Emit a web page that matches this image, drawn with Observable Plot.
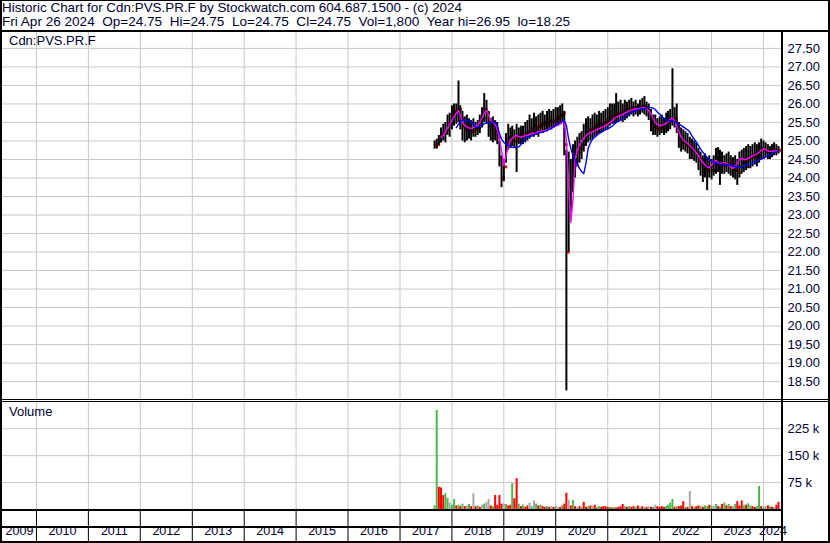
<!DOCTYPE html>
<html><head><meta charset="utf-8">
<script src="https://cdn.jsdelivr.net/npm/d3@7"></script>
<script src="https://cdn.jsdelivr.net/npm/@observablehq/plot@0.6"></script>
<style>
html,body{margin:0;padding:0;background:#fff;}
#wrap{position:relative;width:830px;height:543px;overflow:hidden;font-family:"Liberation Sans",Arial,sans-serif;color:#000033;}
.ln{position:absolute;background:#000;}
.t{position:absolute;white-space:pre;font-size:13px;line-height:14px;}
#wrap svg{position:absolute;}
</style></head><body><div id="wrap"></div>
<script>
// ---- texts ----
const headerLines = [
  "Historic Chart for Cdn:PVS.PR.F by Stockwatch.com 604.687.1500 - (c) 2024",
  "Fri Apr 26 2024  Op=24.75  Hi=24.75  Lo=24.75  Cl=24.75  Vol=1,800  Year hi=26.95  lo=18.25"
];
// ---- categories ----
const years = [2009,2010,2011,2012,2013,2014,2015,2016,2017,2018,2019,2020,2021,2022,2023,2024];
const months = ["2017-09","2017-10","2017-11","2017-12",
"2018-01","2018-02","2018-03","2018-04","2018-05","2018-06","2018-07","2018-08","2018-09","2018-10","2018-11","2018-12",
"2019-01","2019-02","2019-03","2019-04","2019-05","2019-06","2019-07","2019-08","2019-09","2019-10","2019-11","2019-12",
"2020-01","2020-02","2020-03","2020-04","2020-05","2020-06","2020-07","2020-08","2020-09","2020-10","2020-11","2020-12",
"2021-01","2021-02","2021-03","2021-04","2021-05","2021-06","2021-07","2021-08","2021-09","2021-10","2021-11","2021-12",
"2022-01","2022-02","2022-03","2022-04","2022-05","2022-06","2022-07","2022-08","2022-09","2022-10","2022-11","2022-12",
"2023-01","2023-02","2023-03","2023-04","2023-05","2023-06","2023-07","2023-08","2023-09","2023-10","2023-11","2023-12",
"2024-01","2024-02","2024-03","2024-04"];
const halves = ["01","16"];
const priceTicks = [18.5,19,19.5,20,20.5,21,21.5,22,22.5,23,23.5,24,24.5,25,25.5,26,26.5,27,27.5];
const volTicks = [75,150,225];

// ---- half-month price bars (high / low / close) ----
const hi = [
25.00,25.05,25.15,25.35,25.45,25.50,25.70,25.75,25.95,26.00,
26.00,26.62,25.95,25.80,25.65,25.70,25.60,25.55,25.60,25.50,
25.55,25.70,25.90,26.28,26.10,25.80,25.60,25.65,25.55,25.50,
25.00,24.60,24.50,25.20,25.45,25.35,25.40,25.30,25.45,25.35,
25.40,25.40,25.50,25.55,25.70,25.60,25.75,25.65,25.70,25.75,
25.80,25.70,25.80,25.85,25.80,25.85,25.90,25.90,25.95,26.00,
25.80,24.75,24.70,24.50,24.90,25.00,25.10,25.20,25.25,25.45,
25.60,25.65,25.60,25.70,25.75,25.70,25.80,25.75,25.80,25.85,
25.90,26.00,26.00,26.00,26.28,26.05,26.10,26.00,26.10,26.05,
26.10,26.15,26.05,26.10,26.00,26.10,26.15,26.20,26.05,26.00,
25.85,25.70,25.70,25.60,25.65,25.70,25.60,25.75,25.80,25.85,
26.95,25.90,26.00,25.50,25.35,25.30,25.25,25.20,25.10,25.05,
25.00,24.95,24.80,24.70,24.60,24.65,24.55,24.60,24.50,24.60,
24.80,24.82,24.75,24.70,24.60,24.65,24.70,24.60,24.55,24.60,
24.50,24.70,24.75,24.80,24.85,24.90,24.85,24.90,24.95,24.90,
24.95,25.05,25.00,24.95,24.90,24.85,24.90,24.95,24.90,24.85];
const lo = [
24.78,24.78,24.88,24.95,25.00,24.95,25.15,25.10,25.30,25.40,
25.45,25.50,25.30,25.00,24.95,25.00,25.05,25.00,25.10,25.10,
25.15,25.20,25.35,25.50,25.45,25.10,25.00,24.95,25.00,24.90,
24.30,23.74,23.90,24.40,24.75,24.80,24.85,24.80,24.15,24.90,
24.90,24.90,24.95,25.00,25.05,25.10,25.10,25.15,25.10,25.20,
25.20,25.25,25.25,25.30,25.30,25.35,25.40,25.40,25.45,25.50,
24.60,18.25,22.00,22.90,23.60,24.00,24.30,24.40,24.50,24.70,
24.85,24.95,25.00,25.05,25.10,25.15,25.20,25.20,25.25,25.30,
25.30,25.40,25.45,25.45,25.50,25.50,25.55,25.50,25.55,25.60,
25.65,25.70,25.65,25.70,25.65,25.70,25.75,25.70,25.65,25.55,
25.25,25.15,25.15,25.10,25.15,25.20,25.15,25.20,25.25,25.30,
25.40,25.35,25.20,24.80,24.70,24.75,24.70,24.65,24.50,24.50,
24.45,24.40,24.20,24.05,23.88,24.00,23.66,24.00,23.95,24.05,
24.10,24.15,23.80,24.10,24.10,24.15,24.10,24.05,24.00,23.95,
23.80,24.00,24.10,24.15,24.20,24.25,24.25,24.30,24.35,24.30,
24.40,24.50,24.50,24.55,24.50,24.50,24.55,24.60,24.60,24.65];
const cl = [
24.88,24.90,25.00,25.20,25.25,25.30,25.45,25.50,25.65,25.80,
25.85,25.85,25.60,25.40,25.30,25.35,25.30,25.25,25.35,25.30,
25.35,25.45,25.60,25.85,25.75,25.40,25.30,25.20,25.25,25.10,
24.55,24.00,24.30,24.90,25.10,25.05,25.10,25.00,25.10,25.15,
25.10,25.15,25.20,25.25,25.35,25.30,25.40,25.35,25.40,25.45,
25.50,25.45,25.50,25.55,25.50,25.55,25.60,25.65,25.70,25.75,
24.90,22.00,23.00,23.80,24.30,24.50,24.70,24.80,24.90,25.00,
25.20,25.30,25.30,25.35,25.40,25.45,25.50,25.45,25.50,25.55,
25.60,25.65,25.70,25.70,25.75,25.75,25.80,25.75,25.80,25.85,
25.85,25.90,25.85,25.90,25.85,25.90,25.95,25.90,25.85,25.75,
25.50,25.40,25.35,25.30,25.35,25.40,25.35,25.45,25.50,25.55,
25.60,25.55,25.40,25.05,24.95,25.00,24.90,24.85,24.80,24.75,
24.70,24.65,24.50,24.35,24.25,24.30,24.20,24.30,24.20,24.35,
24.45,24.50,24.40,24.40,24.35,24.40,24.40,24.30,24.25,24.20,
24.15,24.30,24.40,24.45,24.50,24.55,24.55,24.60,24.65,24.60,
24.70,24.80,24.75,24.70,24.70,24.65,24.70,24.75,24.75,24.75];
// ---- moving averages ----
const maShort = [
null,null,null,25.10,25.15,25.25,25.35,25.45,25.55,25.65,
25.75,25.82,25.70,25.50,25.42,25.38,25.35,25.34,25.36,25.40,
25.43,25.50,25.62,25.75,25.82,25.70,25.56,25.50,25.46,25.30,
25.05,24.75,24.34,24.60,24.85,25.00,25.08,25.12,25.15,25.12,
25.10,25.12,25.15,25.15,25.18,25.20,25.20,25.22,25.25,25.26,
25.28,25.28,25.30,25.33,25.36,25.38,25.40,25.42,25.45,25.50,
25.55,25.00,23.80,22.80,23.40,24.50,24.75,24.90,25.00,25.08,
25.15,25.20,25.22,25.25,25.28,25.30,25.33,25.36,25.38,25.42,
25.45,25.50,25.55,25.60,25.64,25.67,25.69,25.72,25.75,25.78,
25.82,25.84,25.85,25.87,25.87,25.88,25.90,25.90,25.88,25.82,
25.72,25.60,25.50,25.45,25.42,25.42,25.45,25.48,25.52,25.58,
25.62,25.55,25.40,25.25,25.12,25.02,24.98,24.93,24.88,24.82,
24.75,24.68,24.60,24.50,24.42,24.36,24.30,24.28,24.35,24.45,
24.47,24.42,24.38,24.40,24.42,24.40,24.35,24.30,24.26,24.30,
24.40,24.50,24.53,24.50,24.50,24.53,24.56,24.60,24.62,24.65,
24.69,24.75,24.79,24.77,24.73,24.72,24.72,24.73,24.74,24.74];
const maLong = [
null,null,null,null,null,null,null,null,null,null,
25.36,25.45,25.53,25.55,25.56,25.56,25.55,25.52,25.45,25.38,
25.38,25.40,25.43,25.46,25.49,25.50,25.50,25.50,25.50,25.42,
25.20,25.05,24.96,24.92,24.88,24.85,24.83,24.82,24.82,24.84,
24.90,24.98,25.05,25.10,25.12,25.15,25.17,25.19,25.21,25.23,
25.24,25.26,25.28,25.31,25.34,25.38,25.42,25.46,25.50,25.53,
25.55,25.42,25.05,24.80,24.62,24.50,24.38,24.26,24.17,24.12,
24.40,24.80,24.95,25.05,25.10,25.15,25.20,25.24,25.27,25.30,
25.33,25.36,25.40,25.45,25.50,25.53,25.56,25.60,25.65,25.70,
25.74,25.77,25.80,25.82,25.84,25.86,25.87,25.88,25.89,25.90,
25.90,25.89,25.85,25.78,25.72,25.66,25.62,25.58,25.55,25.55,
25.55,25.52,25.48,25.45,25.42,25.38,25.34,25.30,25.24,25.14,
25.05,24.97,24.88,24.78,24.70,24.62,24.56,24.50,24.46,24.42,
24.40,24.39,24.38,24.37,24.36,24.36,24.35,24.34,24.33,24.31,
24.29,24.28,24.30,24.32,24.34,24.36,24.38,24.39,24.42,24.45,
24.48,24.51,24.53,24.57,24.60,24.62,24.65,24.68,24.71,24.74];
// ---- volume (thousands) and bar colour (g up, r down, n unchanged) ----
const vol = [
10,276,62,60,39,44,31,18,12,28,
10,12,8,15,8,10,14,8,44,8,
10,6,12,15,20,28,10,8,39,12,
39,15,15,14,10,12,72,30,86,15,
8,12,6,10,18,8,24,15,10,12,
8,6,8,6,8,6,8,5,6,10,
15,45,26,10,25,8,6,8,6,20,
6,8,10,8,12,6,8,6,8,8,
6,6,4,5,4,6,8,14,8,6,
8,6,8,6,10,6,8,5,6,8,
6,6,12,8,6,8,6,8,12,18,
28,6,8,8,10,22,6,6,50,8,
6,8,10,8,6,10,8,12,10,8,
14,8,6,14,18,10,14,8,8,14,
22,10,24,10,12,16,10,8,6,8,
64,8,6,8,10,8,6,6,12,20];
const vdir = "ggrrrggngg" + "rgrgrngrnr" + "grngnnrgrr" + "rrngrrgrrg" + "rgrrngngrg" +
             "rrgrnrgnrg" + "rrnrgrnrgr" + "rgrnrggrrr" + "rgrgrrrrgr" + "grrgrnrgrn" +
             "rgnrrrrggg" + "grgrrrgrnr" + "grrgrggrgn" + "grgrgrgrng" + "rrrgrggrrg" + "grgnrgrnrr";

const colorOf = {g:"#4cb84c", r:"#ff0000", n:"#a8a8a8"};
const dates = months.flatMap(m => halves.map(h => new Date(m + "-" + h + "T00:00:00Z")));
const bars = dates.map((d,i) => ({date:d, hi:hi[i], lo:lo[i], cl:cl[i], ma1:maShort[i], ma2:maLong[i], vol:vol[i], c:colorOf[vdir[i]]}));
const yearStarts = years.slice(1).map(y => new Date(Date.UTC(y,0,1)));

const xDomain = [new Date(Date.UTC(2009,4,7)), new Date(Date.UTC(2024,4,14))];
const font = "'Liberation Sans', Arial, sans-serif";
const ink = "#000033";
const common = {width:826, marginLeft:0, marginTop:0, marginBottom:0, marginRight:46,
  x:{type:"utc", domain:xDomain, axis:null},
  style:{background:"transparent", fontFamily:font, fontSize:"13px", color:ink, overflow:"visible"}};
const grid = "#c8c8c8";

const wrap = document.getElementById("wrap");

// header: two lines stretched to the widths they take in the chart
const header = d3.create("svg").attr("width", 830).attr("height", 30)
  .style("left","0px").style("top","0px")
  .style("font-family", font).style("font-size","13.5px").attr("fill", ink);
header.selectAll("text").data(headerLines).join("text")
  .attr("x", 2).attr("y", (d,i) => 12 + i*14)
  .attr("textLength", (d,i) => [460, 568][i]).attr("lengthAdjust", "spacingAndGlyphs")
  .style("white-space","pre").attr("xml:space","preserve")
  .text(d => d);
wrap.appendChild(header.node());

const price = Plot.plot({...common, height:368,
  y:{domain:[17.99,27.93]},
  marks:[
    Plot.ruleY(priceTicks, {stroke:grid}),
    Plot.ruleX(yearStarts, {stroke:grid}),
    // red close ticks sit to the right of each bar and show where they poke out
    Plot.dot(bars, {x:"date", y:"cl", dx:2, r:1.6, fill:"#ff0000", stroke:null, symbol:"square"}),
    Plot.ruleX(bars, {x:"date", y1:"lo", y2:"hi", stroke:"#000", strokeWidth:2}),
    Plot.line(bars, {x:"date", y:"ma1", stroke:"#ff00ff", strokeWidth:1.4}),
    Plot.line(bars, {x:"date", y:"ma2", stroke:"#0000ff", strokeWidth:1.4}),
    Plot.axisY(priceTicks, {anchor:"right", tickSize:0, tickPadding:5, label:null, tickFormat:d => d.toFixed(2)})
  ]});
price.style.left = "2px"; price.style.top = "32px";

const volume = Plot.plot({...common, height:107,
  y:{domain:[0,298]},
  marks:[
    Plot.ruleY(volTicks, {stroke:grid}),
    Plot.ruleX(yearStarts, {stroke:grid}),
    Plot.ruleX(bars, {x:"date", y1:0, y2:"vol", stroke:"c", strokeWidth:2}),
    Plot.axisY(volTicks, {anchor:"right", tickSize:0, tickPadding:5, label:null, tickFormat:d => d + " k"})
  ]});
volume.style.left = "2px"; volume.style.top = "402px";

const yearCells = years.map(y => {
  const a = Math.max(+new Date(Date.UTC(y,0,1)), +xDomain[0]);
  const b = Math.min(+new Date(Date.UTC(y+1,0,1)), +xDomain[1]);
  return {label:String(y), mid:new Date((a+b)/2)};
});
const strip = Plot.plot({...common, height:32,
  style:{...common.style, fontSize:"12.5px"},
  marks:[
    Plot.ruleX(yearStarts, {stroke:"#000"}),
    Plot.text(yearCells, {x:"mid", text:"label", frameAnchor:"bottom", dy:-8})
  ]});
strip.style.left = "2px"; strip.style.top = "510px";

wrap.appendChild(price); wrap.appendChild(volume); wrap.appendChild(strip);

function label(txt, left, top){ const d=document.createElement("div"); d.className="t"; d.textContent=txt; d.style.left=left+"px"; d.style.top=top+"px"; wrap.appendChild(d); }
label("Cdn:PVS.PR.F", 9, 34);
label("Volume", 9, 405);

function ln(l,t,w,h){ const d=document.createElement("div"); d.className="ln"; Object.assign(d.style,{left:l+"px",top:t+"px",width:w+"px",height:h+"px"}); wrap.appendChild(d); }
ln(0,0,830,1);      // top
ln(0,0,2,543);      // left
ln(828,0,2,543);    // right
ln(0,541,830,2);    // bottom
ln(0,30,830,2);     // under title
ln(781,31,2,512);   // right edge of panels
ln(0,399,830,1);    // double line
ln(0,401,830,1);
ln(0,509,783,2);    // under volume
ln(0,526,783,2);    // between year rows
</script>
</body></html>
